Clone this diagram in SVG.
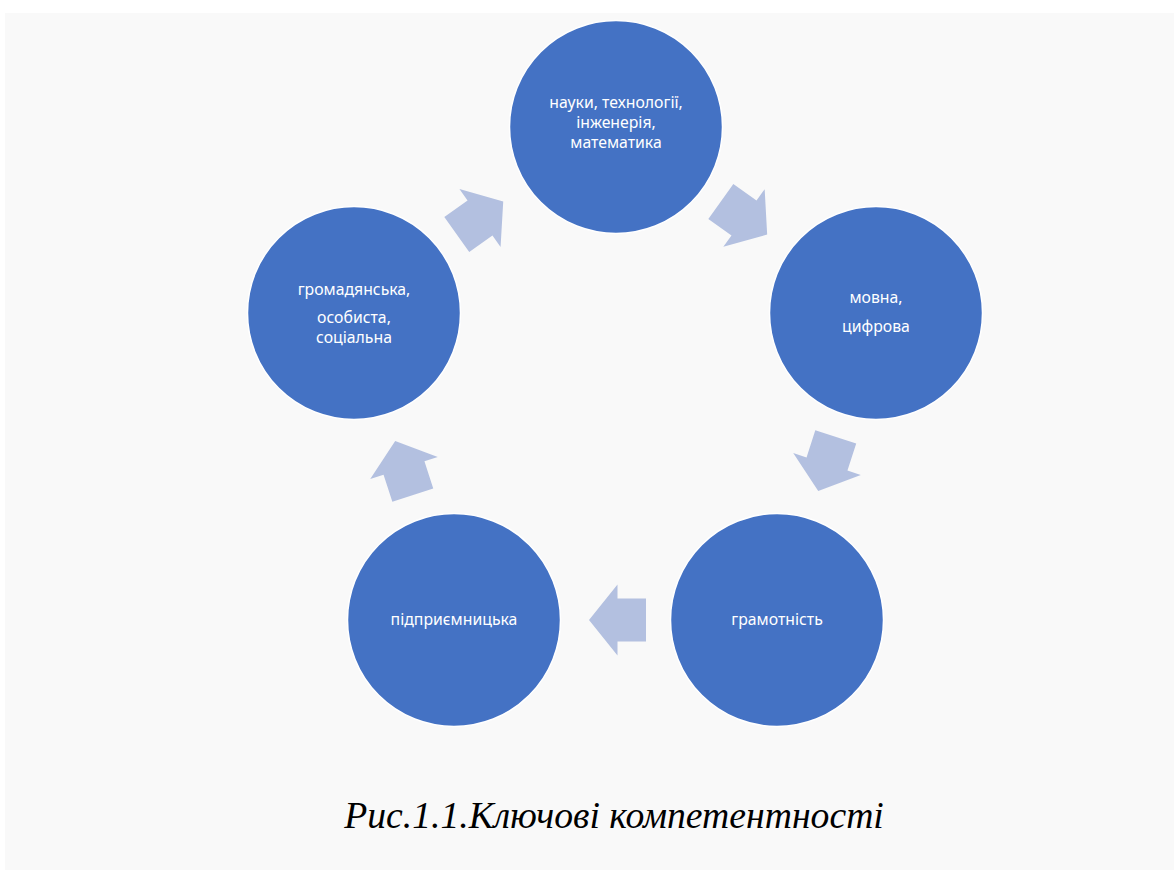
<svg xmlns="http://www.w3.org/2000/svg" width="1174" height="870" viewBox="0 0 1174 870">
<defs>
<style>
.c{fill:#4472C4;stroke:#ffffff;stroke-width:1.5}
.a{fill:#B3C0E0}
.t{font-family:"Noto Sans","Open Sans","Liberation Sans",sans-serif;font-size:15.8px;fill:#ffffff;text-anchor:middle}
.cap{font-family:"Liberation Serif","Times New Roman",serif;font-style:italic;font-size:37.7px;fill:#000000;text-anchor:middle}
</style>
<polygon id="arr" points="-28.5,-21.5 0,-21.5 0,-35.5 28.5,0 0,35.5 0,21.5 -28.5,21.5"/>
</defs>
<rect x="0" y="0" width="1174" height="870" fill="#ffffff"/>
<rect x="5" y="13" width="1169" height="857" fill="#f9f9f9"/>
<g id="connectors">
<use href="#arr" class="a" transform="translate(744,218) rotate(35.6)"/>
<use href="#arr" class="a" transform="translate(827,464) rotate(107.9)"/>
<use href="#arr" class="a" transform="translate(617.5,620) rotate(180)"/>
<use href="#arr" class="a" transform="translate(404,468) rotate(-108)"/>
<use href="#arr" class="a" transform="translate(480,218) rotate(-35.4)"/>
</g>
<g id="n1">
<circle class="c" cx="616" cy="127" r="106.5"/>
<text class="t" x="616" y="108">науки, технології,</text>
<text class="t" x="616" y="128">інженерія,</text>
<text class="t" x="616" y="148">математика</text>
</g>
<g id="n2">
<circle class="c" cx="876" cy="313" r="106.5"/>
<text class="t" x="876" y="303">мовна,</text>
<text class="t" x="876" y="332">цифрова</text>
</g>
<g id="n3">
<circle class="c" cx="777" cy="620" r="106.5"/>
<text class="t" x="777" y="625">грамотність</text>
</g>
<g id="n4">
<circle class="c" cx="454" cy="620" r="106.5"/>
<text class="t" x="454" y="625">підприємницька</text>
</g>
<g id="n5">
<circle class="c" cx="354" cy="313" r="106.5"/>
<text class="t" x="354" y="295">громадянська,</text>
<text class="t" x="354" y="323">особиста,</text>
<text class="t" x="354" y="343">соціальна</text>
</g>
<text class="cap" x="614" y="828">Рис.1.1.Ключові компетентності</text>
</svg>
